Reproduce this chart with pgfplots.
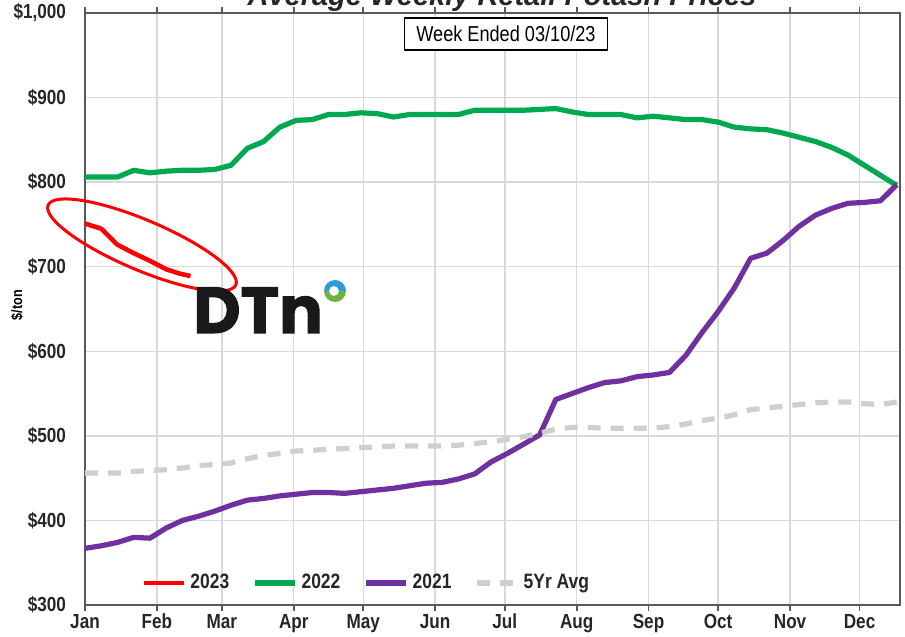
\documentclass[border=0pt]{standalone}
\usepackage{pgfplots}
\pgfplotsset{compat=1.18}
\usepackage{pgfplotstable}
\usepackage{fontspec}
\setmainfont{Liberation Sans}[FakeStretch=0.84]
\newfontfamily\titlefont{Liberation Sans}
\newfontfamily\logofont{Poppins}[BoldFeatures={FakeBold=1.6}]
\definecolor{cgreen}{HTML}{00A94F}
\definecolor{cpurple}{HTML}{7030A0}
\definecolor{cred}{HTML}{FF0000}
\definecolor{cgray}{HTML}{CFCFCF}
\definecolor{lblue}{HTML}{2E9AD8}
\definecolor{lgreen}{HTML}{6DB33F}

\pgfplotstableread{
w v
0 751
1 745
2 726
3 716
4 707
5 697
5.8 692
6.5 689
}\ttwothree

\pgfplotstableread{
w v
0 806
1 806
2 806
3 814
4 811
5 813
6 814
7 814
8 815
9 820
10 840
11 848
12 865
13 873
14 874
15 880
16 880
17 882
18 881
19 877
20 880
21 880
22 880
23 880
24 885
25 885
26 885
27 885
28 886
29 887
30 883
31 880
32 880
33 880
34 876
35 878
36 876
37 874
38 874
39 871
40 865
41 863
42 862
43 858
44 853
45 848
46 841
47 832
48 820
49 808
50 796
}\ttwotwo

\pgfplotstableread{
w v
0 367
1 370
2 374
3 380
4 379
5 391
6 400
7 405
8 411
9 418
10 424
11 426
12 429
13 431
14 433
15 433
16 432
17 434
18 436
19 438
20 441
21 444
22 445
23 449
24 455
25 469
26 479
27 490
28 501
29 543
30 550
31 557
32 563
33 565
34 570
35 572
36 575
37 595
38 622
39 647
40 675
41 710
42 716
43 731
44 748
45 761
46 769
47 775
48 776
49 778
50 797
}\ttwoone

\pgfplotstableread{
w v
0 456
1 456
2 456
3 458
4 459
5 460
6 462
7 465
8 466
9 468
10 473
11 477
12 479
13 482
14 483
15 484
16 485
17 486
18 487
19 488
20 488
21 488
22 488
23 489
24 491
25 493
26 496
27 499
28 503
29 508
30 510
31 510
32 509
33 509
34 509
35 509
36 511
37 514
38 518
39 521
40 525
41 531
42 533
43 535
44 537
45 539
46 540
47 540
48 538
49 537
50 540
}\tavg

\begin{document}
\begin{tikzpicture}
\begin{axis}[
  scale only axis, width=407.5pt, height=296pt,
  xmin=0, xmax=50.2, ymin=300, ymax=1000,
  xtick={0,4.43,8.43,12.86,17.14,21.57,25.86,30.29,34.71,39,43.43,47.71},
  xticklabels={Jan,Feb,Mar,Apr,May,Jun,Jul,Aug,Sep,Oct,Nov,Dec},
  ytick={300,400,...,1000},
  yticklabels={{\$300},{\$400},{\$500},{\$600},{\$700},{\$800},{\$900},{\$1,000}},
  grid=major, grid style={draw=black!15, line width=0.7pt},
  axis line style={draw=black!65, line width=0.9pt},
  xtick style={draw=black!65, line width=0.8pt},
  ytick style={draw=none},
  tick align=outside, major tick length=3pt,
  ticklabel style={font=\bfseries\fontsize{10.2}{12}\selectfont, text=black!85},
  xticklabel style={yshift=2pt},
  yticklabel style={xshift=-3pt},
  legend style={at={(axis cs:17.4,326)}, anchor=center, draw=none, fill=none,
    font=\bfseries\fontsize{10.4}{12}\selectfont, text=black!85,
    /tikz/every even column/.append style={column sep=9.5pt},
    /tikz/every odd column/.append style={column sep=0pt}},
  legend columns=4,
  legend cell align=left,
  legend image code/.code={\draw[#1] (0pt,0pt) -- (20pt,0pt);},
]
\addplot[cred, line width=2.3pt, line join=round] table[x=w,y=v] {\ttwothree};
\addlegendentry{2023}
\addplot[cgreen, line width=2.6pt, line join=round] table[x=w,y=v] {\ttwotwo};
\addlegendentry{2022}
\addplot[cpurple, line width=2.6pt, line join=round] table[x=w,y=v] {\ttwoone};
\addlegendentry{2021}
\addplot[cgray, line width=2.6pt, dash pattern=on 6.5pt off 5pt] table[x=w,y=v] {\tavg};
\addlegendentry{5Yr Avg}
\end{axis}
% annotations
\node[draw=black, line width=0.9pt, minimum width=101.5pt, minimum height=16pt, inner sep=1pt, fill=white,
  font=\fontsize{10.8}{12}\selectfont] at (210.5pt,285.5pt) {Week Ended 03/10/23};
\node[font=\titlefont\bfseries\itshape\fontsize{14.5}{16}\selectfont, anchor=base, text=black!85] at (208.5pt,299.5pt) {Average Weekly Retail Potash Prices};
\node[rotate=90, font=\bfseries\fontsize{7.5}{8}\selectfont] at (-34pt,150pt) {\$/ton};
\draw[cred, line width=1.5pt, rotate around={-23:(28.5pt,180pt)}] (28.5pt,180pt) ellipse [x radius=51pt, y radius=12.5pt];
\node[anchor=base west, inner sep=0pt, font=\logofont\bfseries\fontsize{32.5}{33}\selectfont, text=black!90] at (54pt,136pt) {DTn};
\fill[lblue] (130.5pt,157pt) arc[start angle=0, end angle=180, radius=5.5pt] -- (122pt,157pt) arc[start angle=180, end angle=0, radius=2.5pt] -- cycle;
\fill[lgreen] (130.5pt,157pt) arc[start angle=0, end angle=-180, radius=5.5pt] -- (122pt,157pt) arc[start angle=180, end angle=360, radius=2.5pt] -- cycle;
\pgfresetboundingbox
\path[use as bounding box] (-42.5pt,-16pt) rectangle (410pt,302.5pt);
\end{tikzpicture}
\end{document}
